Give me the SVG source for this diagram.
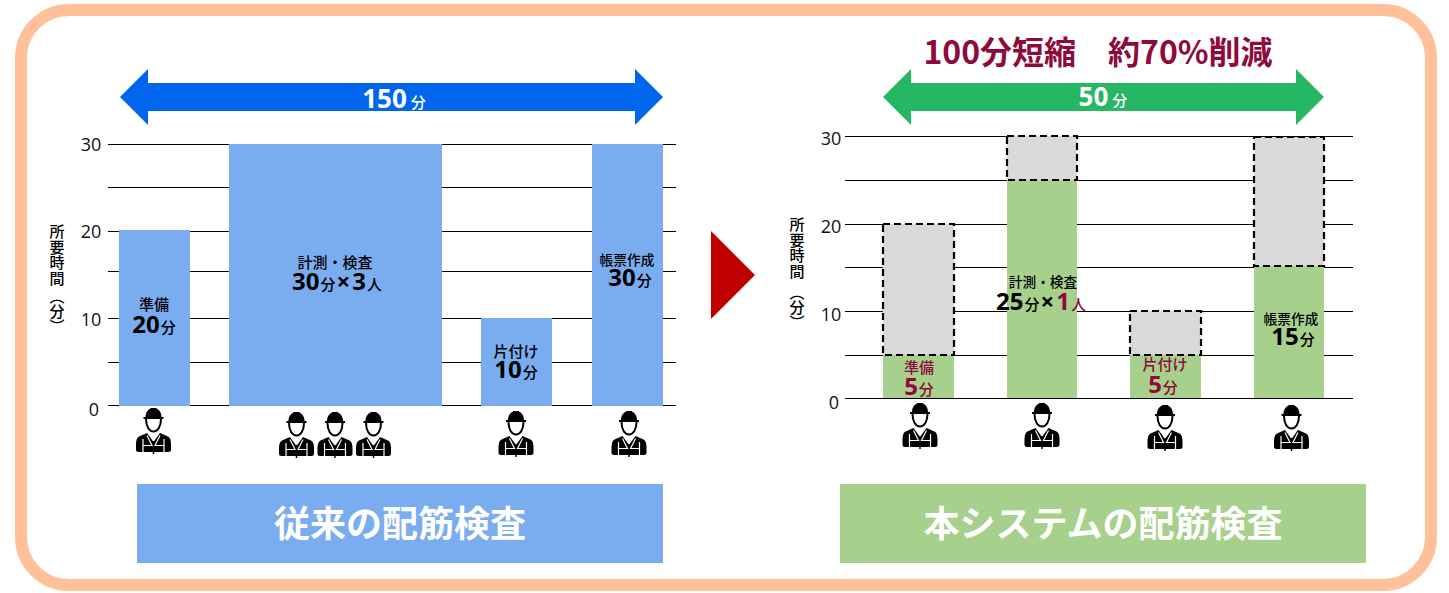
<svg xmlns="http://www.w3.org/2000/svg" width="1449" height="593" viewBox="0 0 1449 593">
<style>
text{font-family:"Noto Sans","Noto Sans CJK JP",sans-serif;text-anchor:middle;font-weight:700;fill:#000}
.cjk{font-family:"Noto Sans CJK JP","Noto Sans",sans-serif}
.ax{font-family:"Open Sans","Noto Sans",sans-serif;font-weight:400;font-size:18px;fill:#111}
.yl{font-family:"Noto Sans CJK JP",sans-serif;font-weight:500;font-size:15px;writing-mode:vertical-rl;text-anchor:start}
.lab{font-family:"Noto Sans CJK JP",sans-serif;font-weight:500;font-size:15px}
.sm{font-size:13.700px}
.num{font-size:24px}
.u{font-size:15px;font-family:"Noto Sans CJK JP",sans-serif;font-weight:500}
.grid line{stroke:#000;stroke-width:1;shape-rendering:crispEdges}
.cap{font-family:"Noto Sans CJK JP",sans-serif;font-size:36px;font-weight:700}
.dash{fill:#d9d9d9;stroke:#000;stroke-width:2.200;stroke-dasharray:7 4}
.blue{fill:#7aadf0}.green{fill:#a6d08c}
.wt{fill:#fff}.rd{fill:#8f0a3c}
</style>
<defs>
<g id="worker">
<path d="M-8 9C-8 4-5 1-3 .7V0H3V.7C5 1 8 4 8 9H10V11H-10V9Z"/>
<path d="M-7.500 11C-7.500 19-4 23.500 0 23.500S7.500 19 7.500 11" fill="#fff" stroke="#000" stroke-width="2"/>
<path d="M-6.500 25-14.500 28.500Q-17.500 30-17.500 36V42Q-17.500 44-15 44H15Q17.500 44 17.500 42V36Q17.500 30 14.500 28.500L6.500 25 0 34Z"/>
<path d="M-10.500 31V44.500M10.500 31V44.500M-10.500 37.500H10.500M-6.500 27.500-1.500 37.500M6.500 27.500 1.500 37.500" fill="none" stroke="#fff" stroke-width="1.200"/>
<path d="M0 33V46" stroke="#000" stroke-width="1.500"/>
</g>
</defs>
<rect id="frame" x="21" y="10" width="1410" height="575" rx="48" fill="#fff" stroke="#ffc09a" stroke-width="12"/>

<g id="grid-left" class="grid">
<line x1="108" y1="144.500" x2="676" y2="144.500"/><line x1="108" y1="187.500" x2="676" y2="187.500"/><line x1="108" y1="231.500" x2="676" y2="231.500"/><line x1="108" y1="271.500" x2="676" y2="271.500"/><line x1="108" y1="318.500" x2="676" y2="318.500"/><line x1="108" y1="362.500" x2="676" y2="362.500"/><line x1="108" y1="405.500" x2="676" y2="405.500"/>
</g>
<g id="grid-right" class="grid">
<line x1="845" y1="136.500" x2="1353" y2="136.500"/><line x1="845" y1="180.500" x2="1353" y2="180.500"/><line x1="845" y1="224.500" x2="1353" y2="224.500"/><line x1="845" y1="267.500" x2="1353" y2="267.500"/><line x1="845" y1="311.500" x2="1353" y2="311.500"/><line x1="845" y1="355.500" x2="1353" y2="355.500"/><line x1="845" y1="398.500" x2="1353" y2="398.500"/>
</g>

<g id="axis-left">
<text class="ax" x="91" y="151">30</text><text class="ax" x="91" y="238">20</text><text class="ax" x="91" y="326">10</text><text class="ax" x="94" y="416">0</text>
<text class="yl" x="57" y="224" letter-spacing="0.500">所要時間</text><text class="yl" x="57" y="288.500">（分）</text>
</g>
<g id="axis-right">
<text class="ax" x="831" y="145">30</text><text class="ax" x="831" y="233">20</text><text class="ax" x="831" y="321">10</text><text class="ax" x="834" y="409">0</text>
<text class="yl" x="797" y="217" letter-spacing="0.500">所要時間</text><text class="yl" x="797" y="284.500">（分）</text>
</g>

<g id="arrow-150">
<path d="M120 97 148 69V83H635V69L663 97 635 125V111H148V125Z" fill="#0066ee"/>
<text class="wt" x="394" y="108" style="font-size:26px">150<tspan class="wt u" dx="4">分</tspan></text>
</g>
<g id="arrow-50">
<path d="M883 97 911 69V83H1296V69L1324 97 1296 125V111H911V125Z" fill="#26b764"/>
<text class="wt" x="1103" y="106" style="font-size:26px">50<tspan class="wt u" dx="4">分</tspan></text>
</g>
<text id="headline" class="cjk rd" x="1098" y="64" style="font-size:32px">100分短縮　約70%削減</text>
<path id="next-arrow" d="M711 231 755 275 711 319Z" fill="#c00000"/>

<g id="node-prep-old"><rect class="blue" x="119" y="230" width="71" height="176"/>
<text class="lab" x="154" y="310">準備</text><text class="num" x="154" y="333">20<tspan class="u" dx="1">分</tspan></text></g>
<g id="node-measure-old"><rect class="blue" x="229" y="144" width="213" height="262"/>
<text class="lab" x="335" y="268">計測・検査</text><text class="num" x="337" y="290">30<tspan class="u" dx="1">分</tspan><tspan dx="1">×</tspan><tspan dx="2">3</tspan><tspan class="u" dx="1">人</tspan></text></g>
<g id="node-clean-old"><rect class="blue" x="481" y="318" width="71" height="88"/>
<text class="lab" x="516" y="357">片付け</text><text class="num" x="516" y="378">10<tspan class="u" dx="1">分</tspan></text></g>
<g id="node-report-old"><rect class="blue" x="592" y="144" width="71" height="262"/>
<text class="lab sm" x="627" y="265">帳票作成</text><text class="num" x="630" y="286">30<tspan class="u" dx="1">分</tspan></text></g>

<g id="node-prep-new"><rect class="green" x="883" y="355" width="71" height="43"/><rect class="dash" x="883" y="224" width="71" height="131"/>
<text class="lab rd" x="919" y="373">準備</text><text class="num rd" x="919" y="395">5<tspan class="u rd" dx="1">分</tspan></text></g>
<g id="node-measure-new"><rect class="green" x="1007" y="180" width="70" height="218"/><rect class="dash" x="1007" y="136" width="70" height="44"/>
<text class="lab sm" x="1043" y="287">計測・検査</text><text class="num" x="1041" y="310">25<tspan class="u" dx="1">分</tspan><tspan dx="1">×</tspan><tspan class="rd" dx="2">1</tspan><tspan class="u rd" dx="1">人</tspan></text></g>
<g id="node-clean-new"><rect class="green" x="1130" y="355" width="71" height="43"/><rect class="dash" x="1130" y="311" width="71" height="44"/>
<text class="lab rd" x="1165" y="370">片付け</text><text class="num rd" x="1163" y="393">5<tspan class="u rd" dx="1">分</tspan></text></g>
<g id="node-report-new"><rect class="green" x="1254" y="266" width="70" height="132"/><rect class="dash" x="1254" y="137" width="70" height="129"/>
<text class="lab sm" x="1291" y="324">帳票作成</text><text class="num" x="1293" y="345">15<tspan class="u" dx="1">分</tspan></text></g>

<g id="workers">
<use href="#worker" x="153.500" y="408"/>
<use href="#worker" x="296.500" y="412"/><use href="#worker" x="335" y="412"/><use href="#worker" x="373.500" y="412"/>
<use href="#worker" x="516" y="411"/><use href="#worker" x="629" y="411"/>
<use href="#worker" x="920" y="403"/><use href="#worker" x="1042" y="403"/><use href="#worker" x="1165" y="405"/><use href="#worker" x="1291.500" y="405"/>
</g>

<g id="caption-old"><rect class="blue" x="137" y="484" width="526" height="79"/><text class="cap wt" x="400" y="537">従来の配筋検査</text></g>
<g id="caption-new"><rect class="green" x="840" y="484" width="526" height="79"/><text class="cap wt" x="1103" y="537">本システムの配筋検査</text></g>
</svg>
